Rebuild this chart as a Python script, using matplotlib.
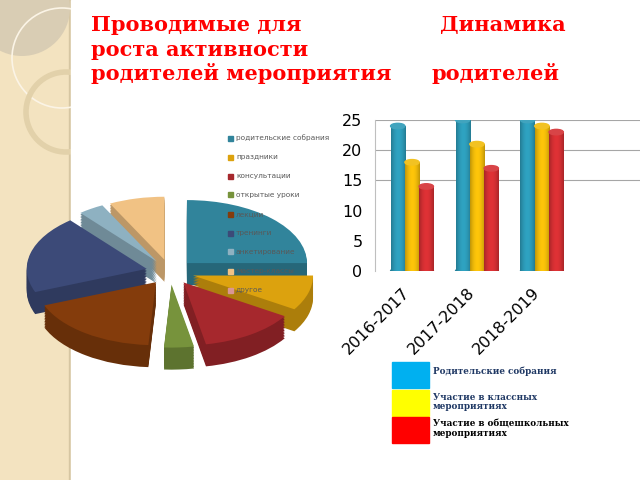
import matplotlib
matplotlib.use('agg')
import matplotlib.pyplot as plt
import matplotlib.transforms as mtransforms
import numpy as np
from matplotlib.patches import Rectangle, Circle, Ellipse
from matplotlib.colors import to_rgb

# pie data
pie_labels = ['родительские собрания', 'праздники', 'консультации', 'открытые уроки',
              'лекции', 'тренинги', 'анкетирование', 'мастер-классы', 'другое']
pie_values = [25, 9, 13, 4, 18, 20, 3.5, 7.5, 0]
pie_colors = ['#31849B', '#DCA20E', '#A6282D', '#77933C', '#843C0C',
              '#3C4A78', '#8EB1C1', '#F1C284', '#D99694']

# bar data
years = ['2016-2017', '2017-2018', '2018-2019']
meetings = [24, 25, 25]
class_events = [18, 21, 24]
school_events = [14, 17, 23]
bar_colors = ['#2FA3C2', '#FFC60A', '#E03236']
legend_labels = ['Родительские собрания', 'Участие в классных\nмероприятиях',
                 'Участие в общешкольных\nмероприятиях']
legend_colors = ['#00B0F0', '#FFFF00', '#FF0000']

W, H = 640, 480
fig = plt.figure(figsize=(6.4, 4.8), dpi=100)

def rect(x0, y0, x1, y1):
    # pixel box (top-left origin) -> figure fraction
    return [x0 / W, 1 - y1 / H, (x1 - x0) / W, (y1 - y0) / H]

# background strip on the left
bg = fig.add_axes([0, 0, 1, 1])
bg.set_xlim(0, W)
bg.set_ylim(H, 0)
bg.axis('off')
bg.add_patch(Rectangle((0, 0), 70, H, color='#F3E3C0', zorder=0))
bg.add_patch(Rectangle((69, 0), 2, H, color='#D6C6A2', zorder=1))
bg.add_patch(Circle((22, 8), 48, color='#D9CDB4', zorder=1, lw=0))
bg.add_patch(Circle((62, 58), 50, fill=False, ec='#FBF4E6', lw=1.2, zorder=2))
bg.add_patch(Circle((66, 112), 40, fill=False, ec='#E2D1AA', lw=4, zorder=2))
bg.add_patch(Rectangle((71, 0), W, H, color='white', zorder=3))

# titles
tkw = dict(color='#FF0000', fontsize=15, fontweight='bold', family='DejaVu Serif', zorder=6)
bg.text(91, 31, 'Проводимые для', **tkw)
bg.text(91, 55.5, 'роста активности', **tkw)
bg.text(91, 80, 'родителей мероприятия', **tkw)
bg.text(440, 31, 'Динамика', **tkw)
bg.text(432, 80, 'родителей', **tkw)

# pseudo-3D pie
cx, cy, rx, ry = 170, 272, 120, 63
ax = fig.add_axes(rect(cx - 1.5 * rx, cy - 1.5 * ry, cx + 1.5 * rx, cy + 1.5 * ry))
dark = [tuple(c * 0.78 for c in to_rgb(col)) for col in pie_colors]
depth = 0.35
expl = [0.2] * len(pie_values)
for k in range(14):
    off = -depth * (1 - k / 14)
    ax.pie(pie_values, colors=dark, startangle=90, counterclock=False,
           explode=expl, center=(0, off), wedgeprops=dict(linewidth=0))
ax.pie(pie_values, colors=pie_colors, startangle=90, counterclock=False,
       explode=expl, wedgeprops=dict(linewidth=0))
ax.set_aspect('auto')
ax.set_xlim(-1.5, 1.5)
ax.set_ylim(-1.5, 1.5)
ax.axis('off')

# pie legend (figure level, drawn over the pie)
for i, (lab, col) in enumerate(zip(pie_labels, pie_colors)):
    y = 138 + i * 19
    fig.patches.append(Rectangle((228 / W, 1 - (y + 2.5) / H), 5 / W, 5 / H,
                                 color=col, transform=fig.transFigure, figure=fig))
    fig.text(236 / W, 1 - y / H, lab, fontsize=5.3, color='#595959', va='center')

# bar chart with cylinders
bx = fig.add_axes(rect(375, 120, 640, 271))
n = len(years)
x = np.arange(n)
w = 0.22
series = [meetings, class_events, school_events]
grad = np.linspace(0, 1, 50)
for s, (vals, col) in enumerate(zip(series, bar_colors)):
    base = np.array(to_rgb(col))
    shade = 0.55 + 0.45 * np.sin(np.pi * (0.15 + 0.7 * grad))
    img = np.clip(base[None, :] * shade[:, None], 0, 1)[None, :, :]
    for i, v in enumerate(vals):
        xc = x[i] + (s - 1) * w
        bx.imshow(img, extent=(xc - w / 2, xc + w / 2, 0, v), aspect='auto', zorder=3)
        bx.add_patch(Ellipse((xc, v), w, 0.9,
                             color=tuple(min(1, c * 0.85 + 0.1) for c in base), zorder=4))
        bx.add_patch(Ellipse((xc, 0), w, 0.9, color=tuple(base * shade[-5]), zorder=2))
bx.set_xlim(-0.57, 3.51)
bx.set_ylim(0, 25)
for g in [15, 20, 25]:
    bx.axhline(g, color='#A6A6A6', lw=0.8, zorder=1)
bx.set_yticks([0, 5, 10, 15, 20, 25])
bx.set_xticks(x)
bx.set_xticklabels(years, rotation=45, ha='right', va='top', rotation_mode='anchor')
bx.tick_params(axis='both', length=0, labelsize=11.5)
bx.tick_params(axis='y', pad=9)
bx.tick_params(axis='x', pad=10)
shift = mtransforms.ScaledTranslation(-7 / 72, 0, fig.dpi_scale_trans)
for lbl in bx.get_xticklabels():
    lbl.set_transform(lbl.get_transform() + shift)
for sp in ['top', 'right', 'bottom']:
    bx.spines[sp].set_visible(False)
bx.spines['left'].set_color('#BFBFBF')

# bar legend
tops = [362, 390, 417]
for i, (lab, col) in enumerate(zip(legend_labels, legend_colors)):
    bg.add_patch(Rectangle((392, tops[i]), 37, 26, color=col, zorder=5))
    bg.text(433, tops[i] + 5 if i == 0 else tops[i] + 3, lab, fontsize=6.3,
            fontweight='bold', family='DejaVu Serif',
            color='#1F3864' if i < 2 else 'black', va='top', linespacing=1.0, zorder=6)

fig.savefig('out.png', dpi=100)
